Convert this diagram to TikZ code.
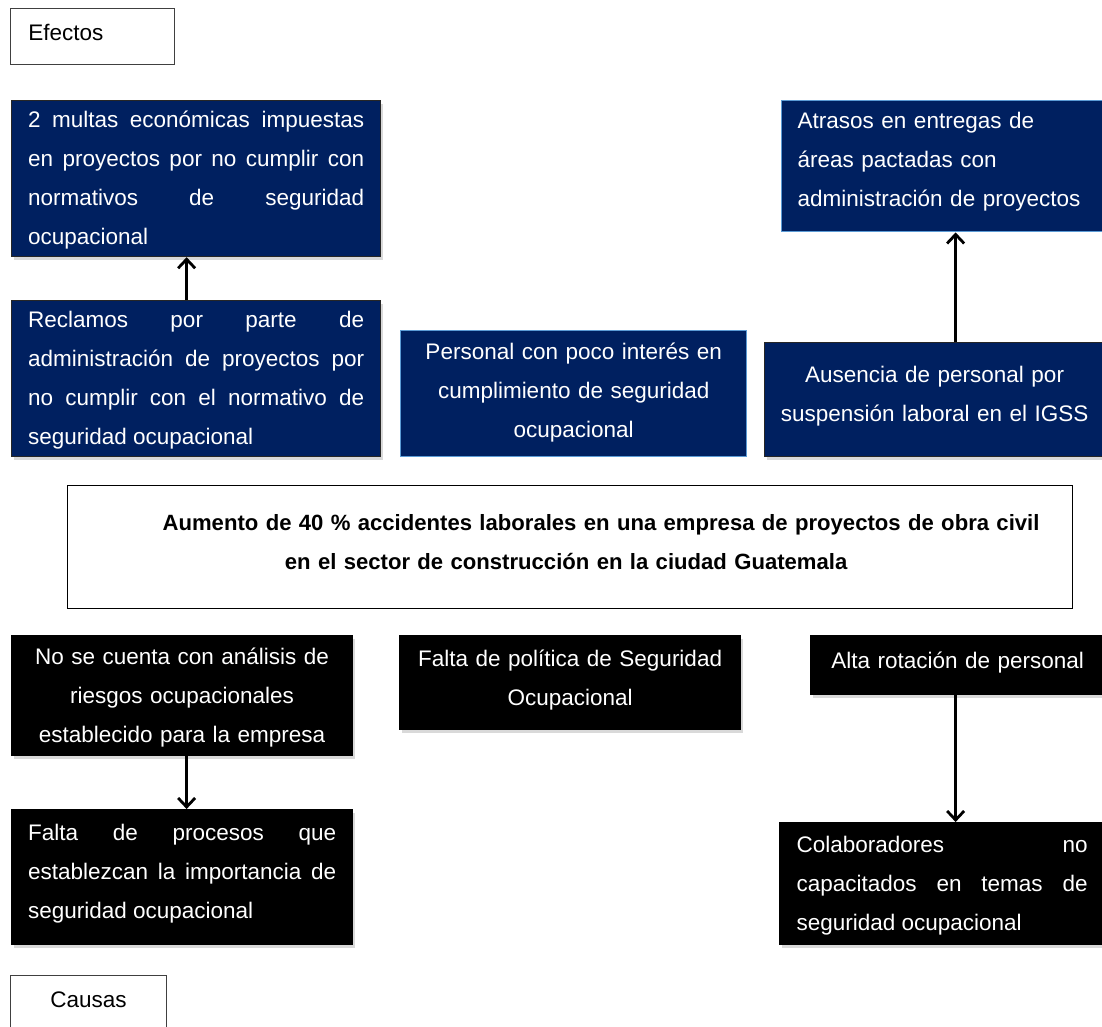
\documentclass[tikz,border=0pt]{standalone}
\usepackage{fontspec}
\setmainfont{Liberation Sans}
\usetikzlibrary{arrows.meta, positioning, shadows}
\definecolor{azulosc}{HTML}{002060}
\definecolor{azulbor}{HTML}{5B9BD5}

\tikzset{
  caja/.style={anchor=north west, inner sep=0pt,
    font=\fontsize{22.5}{39}\selectfont,
    execute at begin node=\strut, execute at end node=\strut},
  subir/.style={execute at end node={\strut\rule[-#1]{0pt}{#1}}},
  sombra/.style={drop shadow={shadow xshift=2pt, shadow yshift=-3pt, opacity=0.3}},
  efecto/.style={caja, draw=black!85, line width=1.2pt, fill=azulosc, text=white, sombra},
  efectoclaro/.style={caja, draw=azulbor, line width=1.4pt, fill=azulosc, text=white},
  causa/.style={caja, draw=black, line width=1.2pt, fill=black, text=white, sombra},
  etiqueta/.style={caja, draw=black!75, line width=0.9pt, fill=white},
  problema/.style={caja, draw=black, line width=1.2pt, fill=white,
    font=\fontsize{22.1}{39}\selectfont\bfseries},
  flecha/.style={line width=2.8pt, -{Straight Barb[length=9pt, width=17pt]}}
}

\begin{document}
\begin{tikzpicture}[x=1pt, y=-1pt]
  \useasboundingbox (0,0) rectangle (1102,1026);

  % efectos
  \node[etiqueta, minimum width=164, minimum height=56, text width=128, align=left, subir=20pt] (efectos) at (10,8) {Efectos};
  \node[efecto, minimum width=369, minimum height=156, text width=336, align=justify] (multas) at (11,100)
    {2 multas económicas impuestas\linebreak en proyectos por no cumplir con\linebreak normativos de seguridad\linebreak ocupacional};
  \node[efecto, minimum width=369, minimum height=156, text width=336, align=justify] (reclamos) at (11,300)
    {Reclamos por parte de\linebreak administración de proyectos por\linebreak no cumplir con el normativo de\linebreak seguridad ocupacional};
  \node[efectoclaro, minimum width=346, minimum height=126, text width=330, align=center, subir=18pt] (interes) at (400,330)
    {Personal con poco interés en\\ cumplimiento de seguridad\\ ocupacional};
  \node[efectoclaro, minimum width=323, minimum height=131, text width=291, align=left, subir=24pt] (atrasos) at (781,100)
    {Atrasos en entregas de\\ áreas pactadas con\\ administración de proyectos};
  \node[efecto, minimum width=340, minimum height=114, text width=330, align=center, subir=22pt] (ausencia) at (764,342)
    {Ausencia de personal por\\ suspensión laboral en el IGSS};

  % problema central
  \node[problema, minimum width=1005, minimum height=123, text width=990, align=center, subir=22pt] (problema) at (67,485)
    {\hspace*{62pt}Aumento de 40 \% accidentes laborales en una empresa de proyectos de obra civil\\ en el sector de construcción en la ciudad Guatemala\hspace*{8pt}};

  % causas
  \node[causa, minimum width=341, minimum height=120, text width=330, align=center] (analisis) at (11,635)
    {No se cuenta con análisis de\\ riesgos ocupacionales\\ establecido para la empresa};
  \node[causa, minimum width=341, minimum height=135, text width=308, align=justify, subir=22pt] (procesos) at (11,809)
    {Falta de procesos que\linebreak establezcan la importancia de\linebreak seguridad ocupacional};
  \node[causa, minimum width=341, minimum height=94, text width=330, align=center, subir=20pt] (politica) at (399,635)
    {Falta de política de Seguridad\\ Ocupacional};
  \node[causa, minimum width=294, minimum height=59, text width=280, align=center, subir=21pt] (rotacion) at (810,635)
    {Alta rotación de personal};
  \node[causa, minimum width=325, minimum height=122, text width=291, align=justify] (capacitados) at (779,822)
    {Colaboradores no\linebreak capacitados en temas de\linebreak seguridad ocupacional};
  \node[etiqueta, minimum width=156, minimum height=56, text width=140, align=center, subir=20pt] (causas) at (10,975) {Causas};

  % flechas
  \draw[flecha] ([xshift=-9.5pt]reclamos.north) -- ([xshift=-9.5pt]reclamos.north |- multas.south);
  \draw[flecha] ([xshift=21pt]ausencia.north) -- ([xshift=21pt]ausencia.north |- atrasos.south);
  \draw[flecha] ([xshift=4.5pt]analisis.south) -- ([xshift=4.5pt]analisis.south |- procesos.north);
  \draw[flecha] ([xshift=-2pt]rotacion.south) -- ([xshift=-2pt]rotacion.south |- capacitados.north);
\end{tikzpicture}
\end{document}
